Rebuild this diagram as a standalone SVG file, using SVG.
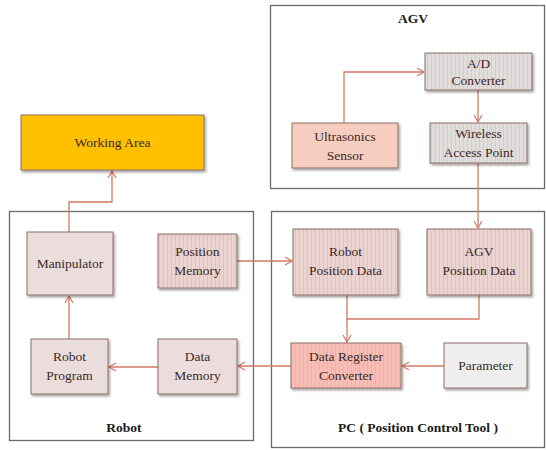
<svg xmlns="http://www.w3.org/2000/svg" width="546" height="450" viewBox="0 0 546 450">
<defs>
<pattern id="stripePink" width="4" height="10" patternUnits="userSpaceOnUse">
<rect width="4" height="10" fill="#EBD3D0"/>
<rect x="3" width="1" height="10" fill="#DFC2BF"/>
</pattern>
<pattern id="stripeGray" width="4" height="10" patternUnits="userSpaceOnUse">
<rect width="4" height="10" fill="#E2DDDD"/>
<rect x="3" width="1" height="10" fill="#D4CDCD"/>
</pattern>
<pattern id="stripeRed" width="4" height="10" patternUnits="userSpaceOnUse">
<rect width="4" height="10" fill="#F8BEB6"/>
<rect x="3" width="1" height="10" fill="#EFB0A8"/>
</pattern>
<filter id="shadow" x="-10%" y="-10%" width="125%" height="130%">
<feDropShadow dx="1.5" dy="2" stdDeviation="1.2" flood-color="#000" flood-opacity="0.35"/>
</filter>
<marker id="arr" markerWidth="10" markerHeight="10" refX="8" refY="5" orient="auto" markerUnits="userSpaceOnUse">
<path d="M1,1 L8,5 L1,9" fill="none" stroke="#D27A62" stroke-width="1.2"/>
</marker>
</defs>
<style>
.container{fill:#fff;stroke:#6b6b6b;stroke-width:1.3}
.box{stroke:#8C6E68;stroke-width:1;filter:url(#shadow)}
text{font-family:'Liberation Serif','Times New Roman',Times,'DejaVu Serif',serif}
.t{font-size:13.5px;fill:#3a2a28;text-anchor:middle}
.title{font-size:13.5px;font-weight:bold;fill:#1a1a1a;text-anchor:middle}
.conn{fill:none;stroke:#D27A62;stroke-width:1.3}
</style>
<rect width="546" height="450" fill="#fff"/>

<g id="agv-container">
<rect class="container" x="270.5" y="5.5" width="274" height="183"/>
<text class="title" x="413" y="23" font-family="Liberation Serif, serif">AGV</text>
</g>
<g id="robot-container">
<rect class="container" x="9.5" y="211.5" width="244" height="229"/>
<text class="title" x="124" y="432" font-family="Liberation Serif, serif">Robot</text>
</g>
<g id="pc-container">
<rect class="container" x="271.5" y="211.5" width="273" height="236"/>
<text class="title" x="418" y="432" font-family="Liberation Serif, serif">PC ( Position Control Tool )</text>
</g>

<g id="connectors">
<path class="conn" d="M344,123 V72 H424" marker-end="url(#arr)"/>
<path class="conn" d="M478,90 V122" marker-end="url(#arr)"/>
<path class="conn" d="M478,163 V228" marker-end="url(#arr)"/>
<path class="conn" d="M69,232 V202 H112 V171" marker-end="url(#arr)"/>
<path class="conn" d="M69,339 V296" marker-end="url(#arr)"/>
<path class="conn" d="M158,367 H109" marker-end="url(#arr)"/>
<path class="conn" d="M291,366 H238" marker-end="url(#arr)"/>
<path class="conn" d="M237,261 H292" marker-end="url(#arr)"/>
<path class="conn" d="M347,295 V342" marker-end="url(#arr)"/>
<path class="conn" d="M479,295 V319 H347"/>
<path class="conn" d="M444,366 H402" marker-end="url(#arr)"/>
</g>

<g id="working-area" font-family="Liberation Serif, serif">
<rect class="box" x="21" y="115" width="183" height="55" fill="#FFC000" stroke="#B08A2A"/>
<text class="t" x="112.5" y="147">Working Area</text>
</g>
<g id="ad-converter" font-family="Liberation Serif, serif">
<rect class="box" x="425" y="53" width="107" height="37" fill="url(#stripeGray)"/>
<text class="t" x="478.5" y="68">A/D</text>
<text class="t" x="478.5" y="85">Converter</text>
</g>
<g id="ultrasonics-sensor" font-family="Liberation Serif, serif">
<rect class="box" x="292" y="123" width="106" height="45" fill="#F6CDBF" stroke="#A5544A"/>
<text class="t" x="345" y="141">Ultrasonics</text>
<text class="t" x="345" y="160">Sensor</text>
</g>
<g id="wireless-access-point" font-family="Liberation Serif, serif">
<rect class="box" x="430" y="123" width="97" height="40" fill="url(#stripeGray)"/>
<text class="t" x="478.5" y="138">Wireless</text>
<text class="t" x="478.5" y="157">Access Point</text>
</g>
<g id="manipulator" font-family="Liberation Serif, serif">
<rect class="box" x="27" y="232" width="86" height="63" fill="#EADDDB"/>
<text class="t" x="70" y="268">Manipulator</text>
</g>
<g id="position-memory" font-family="Liberation Serif, serif">
<rect class="box" x="158" y="234" width="79" height="54" fill="url(#stripePink)"/>
<text class="t" x="197.5" y="256">Position</text>
<text class="t" x="197.5" y="275">Memory</text>
</g>
<g id="robot-program" font-family="Liberation Serif, serif">
<rect class="box" x="31" y="339" width="77" height="55" fill="#EADDDB"/>
<text class="t" x="69.5" y="361">Robot</text>
<text class="t" x="69.5" y="380">Program</text>
</g>
<g id="data-memory" font-family="Liberation Serif, serif">
<rect class="box" x="158" y="339" width="79" height="55" fill="#EADDDB"/>
<text class="t" x="197.5" y="361">Data</text>
<text class="t" x="197.5" y="380">Memory</text>
</g>
<g id="robot-position-data" font-family="Liberation Serif, serif">
<rect class="box" x="293" y="229" width="105" height="66" fill="url(#stripePink)"/>
<text class="t" x="345.5" y="256">Robot</text>
<text class="t" x="345.5" y="275">Position Data</text>
</g>
<g id="agv-position-data" font-family="Liberation Serif, serif">
<rect class="box" x="427" y="229" width="104" height="66" fill="url(#stripePink)"/>
<text class="t" x="479" y="256">AGV</text>
<text class="t" x="479" y="275">Position Data</text>
</g>
<g id="data-register-converter" font-family="Liberation Serif, serif">
<rect class="box" x="291" y="343" width="110" height="45" fill="url(#stripeRed)" stroke="#B0574E"/>
<text class="t" x="346" y="361">Data Register</text>
<text class="t" x="346" y="380">Converter</text>
</g>
<g id="parameter" font-family="Liberation Serif, serif">
<rect class="box" x="444" y="343" width="83" height="45" fill="#EFEEEE" stroke="#8C8080"/>
<text class="t" x="485.5" y="370">Parameter</text>
</g>
</svg>
